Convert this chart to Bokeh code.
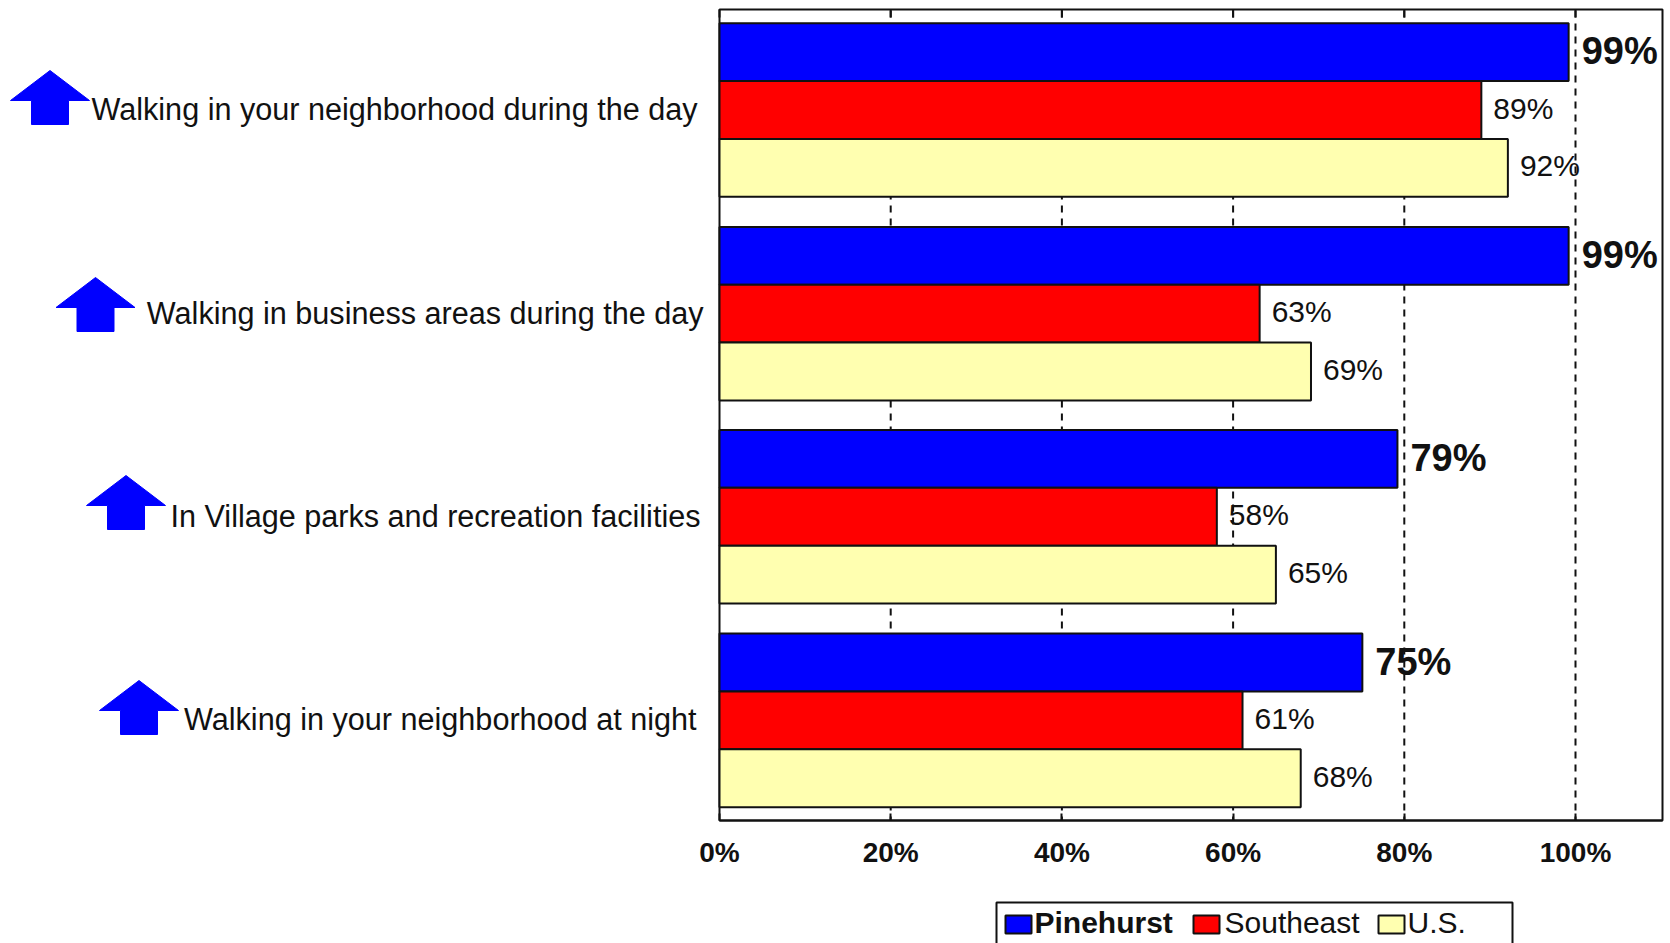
from bokeh.plotting import figure
from bokeh.models import ColumnDataSource, Range1d, FixedTicker
from bokeh.core.properties import value
from bokeh.embed import file_html
from bokeh.resources import INLINE

categories = ["Walking in your neighborhood during the day",
              "Walking in business areas during the day",
              "In Village parks and recreation facilities",
              "Walking in your neighborhood at night"]
series_names = ["Pinehurst", "Southeast", "U.S."]
pinehurst = [99.2, 99.2, 79.2, 75.1]
southeast = [89.0, 63.1, 58.1, 61.1]
us = [92.1, 69.1, 65.0, 67.9]
pinehurst_labels = ["99%", "99%", "79%", "75%"]
southeast_labels = ["89%", "63%", "58%", "61%"]
us_labels = ["92%", "69%", "65%", "68%"]
tick_values = [0, 20, 40, 60, 80, 100]
grid_values = [20, 40, 60, 80, 100]
colors = ["#0000FF", "#FF0000", "#FFFFB0"]

# layout constants, page pixels
L, R, T, B = 719, 1662, 10, 820
PX = 8.56            # pixels per percent
W, H = 1670, 943
UNIT = (B - T) / 14  # pixels per bar
FONT = value("Liberation Sans")
INK = "#111111"

def X(px):
    return (px - L) / PX

def Y(py):
    return (py - T) / UNIT

XMAX, YMAX = X(R), Y(B)

# the frame fills the canvas, so side labels, arrows and legend can be glyphs
p = figure(width=W, height=H, output_backend="svg", toolbar_location=None,
           x_range=Range1d(X(0), X(W)), y_range=Range1d(Y(H), Y(0)),
           min_border=0, min_border_left=0, min_border_right=0, min_border_top=0,
           min_border_bottom=0)
p.background_fill_color = "white"
p.outline_line_color = None
p.yaxis.visible = False
p.ygrid.visible = False
p.xgrid.visible = False

ax = p.xaxis[0]
ax.fixed_location = YMAX
ax.bounds = (0, XMAX)
ax.ticker = FixedTicker(ticks=tick_values)
ax.major_label_overrides = {t: f"{t}%" for t in tick_values}
ax.major_tick_in = 7
ax.major_tick_out = 0
ax.minor_tick_in = 0
ax.minor_tick_out = 0
ax.axis_line_color = INK
ax.axis_line_width = 2
ax.major_tick_line_color = INK
ax.major_tick_line_width = 2
ax.major_label_text_font = "Liberation Sans"
ax.major_label_text_font_style = "bold"
ax.major_label_text_font_size = "28px"
ax.major_label_text_color = INK
ax.major_label_standoff = 16

# dashed grid held inside the frame
p.segment(x0=grid_values, x1=grid_values, y0=[0] * 5, y1=[YMAX] * 5, line_color=INK,
          line_width=2, line_dash="7 6")

# frame and top ticks
FRAME_TOP = Y(T - 1)
p.quad(left=[0], right=[XMAX], top=[FRAME_TOP], bottom=[YMAX], fill_color=None, line_color=INK,
       line_width=2)
p.segment(x0=tick_values, x1=tick_values, y0=[FRAME_TOP] * 6, y1=[Y(T + 7)] * 6, line_color=INK,
          line_width=2)

centers = [1.72, 5.24, 8.75, 12.27]
offsets = [-1, 0, 1]
for vals, labs, off, col, style, size, dy, dx in zip(
        [pinehurst, southeast, us],
        [pinehurst_labels, southeast_labels, us_labels],
        offsets, colors, ["bold", "normal", "normal"], ["38px", "30px", "30px"], [-1, -2, -2],
        [13, 12, 12]):
    src = ColumnDataSource(dict(y=[c + off for c in centers], v=vals, t=labs))
    p.hbar(y="y", right="v", left=0, height=1, source=src, fill_color=col,
           line_color=INK, line_width=2)
    p.text(x="v", y="y", text="t", source=src, x_offset=dx, y_offset=dy, text_align="left",
           text_baseline="middle", text_font=FONT, text_font_style=style,
           text_font_size=value(size), text_color=INK)

cat_src = ColumnDataSource(dict(x=[0] * 4, y=centers, t=categories, dx=[-22, -16, -19, -23]))
p.text(x="x", y="y", text="t", source=cat_src, x_offset="dx", y_offset=-1, text_align="right",
       text_baseline="middle", text_font=FONT, text_font_size=value("30.6px"), text_color=INK)

# up arrows to the left of the category labels
arrow_tips = [(49.5, 70), (95, 277), (125.5, 475), (138.5, 680)]
for tx, ty in arrow_tips:
    ax_px = [tx, tx + 39.5, tx + 18.5, tx + 18.5, tx - 18.5, tx - 18.5, tx - 39.5]
    ay_px = [ty, ty + 30, ty + 30, ty + 54, ty + 54, ty + 30, ty + 30]
    p.patch(x=[X(a) for a in ax_px], y=[Y(a) for a in ay_px], fill_color="#0000FF",
            line_color="#0000FF", line_width=1)

# legend, its box runs off the bottom of the page
p.quad(left=[X(996)], right=[X(1512)], top=[Y(902)], bottom=[Y(960)], fill_color=None,
       line_color=INK, line_width=2)
swatches = [(1005, 1031), (1193, 1219), (1378, 1404)]
text_x = [1034, 1224, 1407]
for name, col, (a, b), tx in zip(series_names, colors, swatches, text_x):
    p.quad(left=[X(a)], right=[X(b)], top=[Y(915)], bottom=[Y(933)], fill_color=col,
           line_color=INK, line_width=2)
    p.text(x=[X(tx)], y=[Y(922)], text=[name], text_font=FONT, text_font_size=value("30px"),
           text_baseline="middle", text_color=INK,
           text_font_style="bold" if name == "Pinehurst" else "normal")

open("out.html", "w").write(file_html(p, INLINE))
